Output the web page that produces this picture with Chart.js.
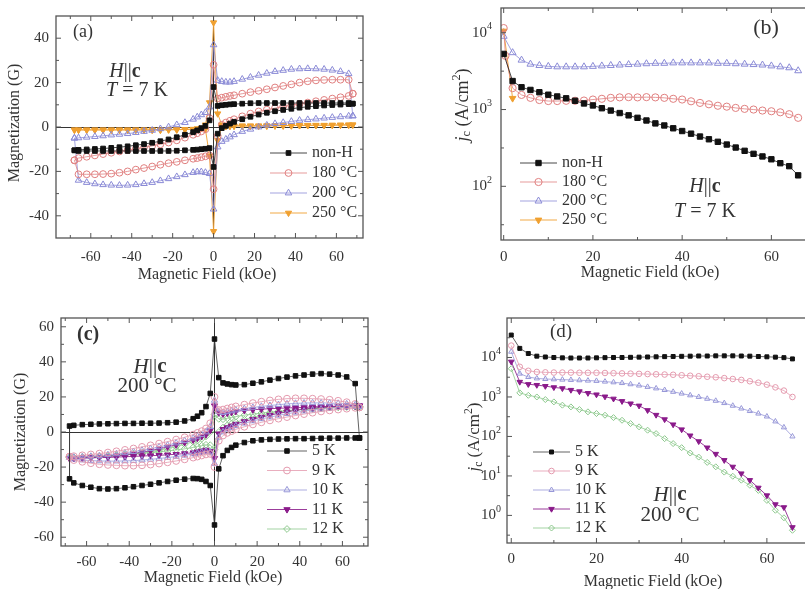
<!DOCTYPE html>
<html>
<head>
<meta charset="utf-8">
<script src="https://cdn.jsdelivr.net/npm/chart.js@4.4.1/dist/chart.umd.min.js"></script>
<style>
  html, body { margin: 0; padding: 0; background: #fff; width: 805px; height: 589px; overflow: hidden; }
  canvas { position: absolute; }
</style>
</head>
<body>
<canvas id="ca" width="400" height="295" style="left:0;top:0"></canvas>
<canvas id="cb" width="440" height="295" style="left:400px;top:0"></canvas>
<canvas id="cc" width="400" height="294" style="left:0;top:295px"></canvas>
<canvas id="cd" width="440" height="294" style="left:400px;top:295px"></canvas>
<script>
// ---- loop field sweeps (kOe), panels (a) and (c)
const loopFieldDown = [68,66,62,58,54,50,46,42,38,34,30,26,22,18,14,10,8,6,4,2,0,-2,-4,-6,-8,-10,-14,-18,-22,-26,-30,-34,-38,-42,-46,-50,-54,-58,-62,-66,-68];
const loopFieldUp = [-68,-66,-62,-58,-54,-50,-46,-42,-38,-34,-30,-26,-22,-18,-14,-10,-8,-6,-4,-2,0,2,4,6,8,10,14,18,22,26,30,34,38,42,46,50,54,58,62,66,68];

// panel (a): magnetization (G), T = 7 K
const aNonHDown = [10.5,10.8,10.8,10.8,10.8,10.8,10.8,10.8,10.8,10.8,10.8,10.8,10.8,10.7,10.5,10.3,10.2,10.0,9.8,9.5,18,3,0.5,-0.5,-1.5,-2.3,-3.5,-4.6,-5.6,-6.4,-7.1,-7.7,-8.2,-8.7,-9.1,-9.4,-9.7,-9.9,-10.1,-10.3,-10.5];
const aNonHUp = [-10.5,-10.8,-10.8,-10.8,-10.8,-10.8,-10.8,-10.8,-10.8,-10.8,-10.8,-10.8,-10.8,-10.7,-10.5,-10.3,-10.2,-10.0,-9.8,-9.5,-18,-3,-0.5,0.5,1.5,2.3,3.5,4.6,5.6,6.4,7.1,7.7,8.2,8.7,9.1,9.4,9.7,9.9,10.1,10.3,10.5];
const a180Down = [15,21.3,21.3,21.3,21.2,21.0,20.6,20.0,19.2,18.5,17.8,17.0,16.3,15.7,15.0,14.3,14.0,13.6,13.2,12.8,28,4,-1,-2,-2.8,-3.5,-4.8,-6,-7,-7.8,-8.5,-9.2,-9.8,-10.4,-11,-11.6,-12.2,-12.8,-13.4,-14,-15];
const a180Up = [-15,-21.3,-21.3,-21.3,-21.2,-21.0,-20.6,-20.0,-19.2,-18.5,-17.8,-17.0,-16.3,-15.7,-15.0,-14.3,-14.0,-13.6,-13.2,-12.8,-28,-4,1,2,2.8,3.5,4.8,6,7,7.8,8.5,9.2,9.8,10.4,11,11.6,12.2,12.8,13.4,14,15];
const a200Down = [5,24,25,25.6,26,26.2,26.3,26.2,26,25.5,25,24.2,23.3,22.4,21.5,20.5,20.2,20.2,20.5,21,37,9,6.5,5.5,4.5,3.5,2,1,0,-0.8,-1.5,-2,-2.5,-3,-3.3,-3.6,-4,-4.3,-4.6,-4.9,-5];
const a200Up = [-5,-24,-25,-25.6,-26,-26.2,-26.3,-26.2,-26,-25.5,-25,-24.2,-23.3,-22.4,-21.5,-20.5,-20.2,-20.2,-20.5,-21,-37,-9,-6.5,-5.5,-4.5,-3.5,-2,-1,0,0.8,1.5,2,2.5,3,3.3,3.6,4,4.3,4.6,4.9,5];
const a250Down = [1,1,0.9,0.9,0.8,0.8,0.8,0.7,0.7,0.6,0.6,0.6,0.5,0.5,0.5,0.5,0.5,0.5,1,6,47,11,1,-0.5,-0.8,-1,-1.1,-1.2,-1.2,-1.3,-1.3,-1.3,-1.3,-1.3,-1.3,-1.3,-1.3,-1.3,-1.3,-1.3,-1.3];
const a250Up = [-1.3,-1.3,-1.3,-1.3,-1.3,-1.3,-1.3,-1.3,-1.3,-1.3,-1.3,-1.3,-1.2,-1.2,-1.1,-1,-0.8,-0.6,-1,-13,-47,-6,0,0.3,0.4,0.5,0.5,0.5,0.5,0.5,0.6,0.6,0.6,0.7,0.7,0.8,0.8,0.8,0.9,0.9,1];

// panel (b): jc (A/cm^2), T = 7 K
const bField = [0,2,4,6,8,10,12,14,16,18,20,22,24,26,28,30,32,34,36,38,40,42,44,46,48,50,52,54,56,58,60,62,64,66];
const bField180 = [0,0.4,2,4,6,8,10,12,14,16,18,20,22,24,26,28,30,32,34,36,38,40,42,44,46,48,50,52,54,56,58,60,62,64,66];
const bField250 = [0,2];
const bNonH = [5300,2350,1950,1800,1680,1560,1480,1400,1300,1200,1130,1040,970,900,840,780,720,660,620,570,525,485,445,410,380,350,320,290,265,245,225,200,183,139];
const b180 = [11500,5000,1900,1550,1420,1330,1290,1290,1300,1300,1310,1350,1380,1420,1440,1450,1440,1450,1440,1420,1380,1350,1280,1220,1170,1120,1090,1050,1020,1000,970,950,920,870,780];
const b200 = [9000,5500,4400,3900,3750,3650,3600,3600,3600,3600,3650,3700,3750,3800,3850,3900,3950,4000,4000,4050,4050,4050,4050,4050,4000,4000,3950,3900,3850,3800,3700,3600,3500,3200];
const b250 = [10500,1400];

// panel (c): magnetization (G), 200 °C sample
const c5Down = [-3.4,27.6,31.4,32.5,33,33.3,33,32.5,32,31.3,30.5,29.6,28.6,27.8,27,26.8,27,27.4,28,31,53,22,14.5,11,9,7.6,6.3,5.6,5.3,5.1,5,5,4.9,4.9,4.8,4.7,4.6,4.4,4.2,3.8,3.4];
const c5Up = [-26.7,-29,-30.5,-31.5,-32.3,-32.5,-32.3,-31.8,-31.2,-30.5,-29.8,-29,-28.2,-27.5,-26.9,-26.5,-26.6,-27,-28.2,-30.5,-53,-21,-13.5,-10.5,-8.8,-7.5,-6,-5,-4.5,-4.2,-4,-3.9,-3.8,-3.8,-3.7,-3.6,-3.5,-3.5,-3.4,-3.4,-3.4];
const c9Down = [14,16,17,17.8,18.4,18.8,19,19.2,19.2,19,18.6,18,17.3,16.5,15.6,14.6,14,13.4,12.8,12.5,20,5,2,0.5,-0.5,-1.5,-3,-4.3,-5.5,-6.6,-7.6,-8.5,-9.4,-10.2,-11,-11.7,-12.3,-12.8,-13.3,-13.8,-14];
const c9Up = [-14,-16,-17,-17.8,-18.4,-18.8,-19,-19.2,-19.2,-19,-18.6,-18,-17.3,-16.5,-15.6,-14.6,-14,-13.4,-12.8,-12.5,-20,-5,-2,-0.5,0.5,1.5,3,4.3,5.5,6.6,7.6,8.5,9.4,10.2,11,11.7,12.3,12.8,13.3,13.8,14];
const c10Down = [14.5,15.5,16,16.3,16.5,16.6,16.6,16.5,16.3,16,15.6,15.1,14.6,14,13.3,12.5,12,11.5,11,11.5,18,3,0,-1.5,-2.5,-3.5,-5,-6.3,-7.5,-8.5,-9.5,-10.4,-11.2,-11.9,-12.5,-13,-13.5,-13.9,-14.2,-14.4,-14.5];
const c10Up = [-14.5,-15.5,-16,-16.3,-16.5,-16.6,-16.6,-16.5,-16.3,-16,-15.6,-15.1,-14.6,-14,-13.3,-12.5,-12,-11.5,-11,-11.5,-18,-3,0,1.5,2.5,3.5,5,6.3,7.5,8.5,9.5,10.4,11.2,11.9,12.5,13,13.5,13.9,14.2,14.4,14.5];
const c11Down = [15,15,14.8,14.7,14.6,14.5,14.3,14.1,13.9,13.7,13.5,13.3,13,12.7,12.3,11.8,11.3,10.8,10.3,11,15,1,-1.5,-2.5,-3.5,-4.5,-6,-7.3,-8.5,-9.6,-10.6,-11.5,-12.3,-13,-13.5,-14,-14.3,-14.6,-14.8,-15,-15];
const c11Up = [-15,-15,-14.8,-14.7,-14.6,-14.5,-14.3,-14.1,-13.9,-13.7,-13.5,-13.3,-13,-12.7,-12.3,-11.8,-11.3,-10.8,-10.3,-11,-15,-1,1.5,2.5,3.5,4.5,6,7.3,8.5,9.6,10.6,11.5,12.3,13,13.5,14,14.3,14.6,14.8,15,15];
const c12Down = [14.5,14.5,14.3,14.1,13.9,13.6,13.3,13,12.6,12.2,11.8,11.3,10.8,10.2,9.6,8.8,8.3,7.8,7.3,7.5,10,0,-2.5,-3.8,-4.8,-5.6,-7,-8.3,-9.4,-10.4,-11.2,-11.9,-12.5,-13,-13.4,-13.7,-14,-14.2,-14.4,-14.5,-14.5];
const c12Up = [-14.5,-14.5,-14.3,-14.1,-13.9,-13.6,-13.3,-13,-12.6,-12.2,-11.8,-11.3,-10.8,-10.2,-9.6,-8.8,-8.3,-7.8,-7.3,-7.5,-10,0,2.5,3.8,4.8,5.6,7,8.3,9.4,10.4,11.2,11.9,12.5,13,13.4,13.7,14,14.2,14.4,14.5,14.5];

// panel (d): jc (A/cm^2), 200 °C sample
const dField = [0,2,4,6,8,10,12,14,16,18,20,22,24,26,28,30,32,34,36,38,40,42,44,46,48,50,52,54,56,58,60,62,64,66];
const d5 = [37000,17000,12600,10800,10300,10000,9800,9700,9700,9700,9800,9900,10000,10000,10100,10200,10300,10400,10500,10600,10700,10800,10900,10900,11000,11000,11000,10900,10800,10600,10400,10200,9900,9200];
const d9 = [20000,5800,4600,4300,4200,4150,4150,4150,4100,4100,4100,4050,4000,3950,3900,3850,3800,3750,3700,3650,3550,3450,3350,3250,3150,3000,2850,2700,2500,2300,2050,1750,1450,1000];
const d10 = [14000,3900,3200,2950,2850,2800,2750,2700,2650,2600,2550,2450,2350,2250,2100,1950,1800,1650,1500,1350,1220,1100,1000,900,800,700,600,510,440,380,320,240,170,100];
const d11 = [7800,2400,2100,2000,1880,1750,1650,1500,1380,1250,1150,1020,900,780,680,600,460,350,270,200,150,105,75,52,36,25,17,11.5,7.8,5,3.2,1.9,1.6,0.5];
const d12 = [5200,1270,1100,1000,860,750,620,560,480,420,380,345,300,257,212,175,144,118,88,66,52,38,30,22,17,12.5,9.8,7.8,5.8,4.3,2.4,1.35,0.87,0.42];

// ---- ticks
const loopXTicks = [-60,-40,-20,0,20,40,60];
const loopXMinor = [-70,-50,-30,-10,10,30,50,70];
const aYTicks = [-40,-20,0,20,40];
const aYMinor = [-30,-10,10,30];
const cYTicks = [-60,-40,-20,0,20,40,60];
const cYMinor = [-50,-30,-10,10,30,50];
const jcXTicks = [0,20,40,60];
const jcXMinor = [10,30,50,70];
const bYTicks = [100,1000,10000];
const bYMinor = [31.6,316,3162];
const dYTicks = [1,10,100,1000,10000];
const dYMinor = [0.316,3.16,31.6,316,3162,31623];

const SERIF = '"Liberation Serif","DejaVu Serif",serif';
const cfgs = {};

function fnt(style, size) { return (style ? style + ' ' : '') + size + 'px ' + SERIF; }

// draw a run of differently styled text pieces: [text, style, size, dy]
function drawRuns(ctx, parts, x, y, align, rot) {
  ctx.save();
  ctx.translate(x, y);
  if (rot) ctx.rotate(-Math.PI / 2);
  ctx.textBaseline = 'middle';
  ctx.textAlign = 'left';
  let w = 0;
  parts.forEach(p => { ctx.font = fnt(p[1], p[2]); w += ctx.measureText(p[0]).width; });
  let cx = align === 'left' ? 0 : align === 'right' ? -w : -w / 2;
  parts.forEach(p => {
    ctx.font = fnt(p[1], p[2]);
    ctx.fillText(p[0], cx, p[3] || 0);
    cx += ctx.measureText(p[0]).width;
  });
  ctx.restore();
}

const deco = {
  id: 'deco',
  afterDatasetsDraw(chart) {
    const c = cfgs[chart.canvas.id];
    if (!c) return;
    const ctx = chart.ctx, a = chart.chartArea, sx = chart.scales.x, sy = chart.scales.y;
    const seg = (x1, y1, x2, y2) => { ctx.beginPath(); ctx.moveTo(x1, y1); ctx.lineTo(x2, y2); ctx.stroke(); };
    ctx.save();
    ctx.strokeStyle = '#555';
    ctx.lineWidth = 1.3;
    ctx.strokeRect(a.left, a.top, a.right - a.left, a.bottom - a.top);
    ctx.lineWidth = 1;
    // inward ticks on all four sides
    const marks = (vals, len, horiz) => vals.forEach(v => {
      if (horiz) {
        const p = sx.getPixelForValue(v);
        if (p < a.left || p > a.right) return;
        seg(p, a.bottom, p, a.bottom - len); seg(p, a.top, p, a.top + len);
      } else {
        const p = sy.getPixelForValue(v);
        if (p < a.top || p > a.bottom) return;
        seg(a.left, p, a.left + len, p); seg(a.right, p, a.right - len, p);
      }
    });
    marks(c.xMajor, 5, true); marks(c.xMinor, 3, true);
    marks(c.yMajor, 5, false); marks(c.yMinor, 3, false);

    ctx.fillStyle = '#333';
    if (c.logPad) {
      c.yMajor.forEach(v => drawRuns(ctx, [['10', '', 15], [String(Math.round(Math.log10(v))), '', 10, -6]],
        a.left - c.logPad, sy.getPixelForValue(v), 'right'));
    }
    c.texts.forEach(t => drawRuns(ctx, t.parts, t.x, t.y, t.align || 'center', t.rot));

    // legend: line + marker + label
    const L = c.legend;
    chart.data.datasets.forEach((ds, i) => {
      const y = L.y + i * L.dy;
      ctx.strokeStyle = ds.borderColor; ctx.lineWidth = 1;
      seg(L.x, y, L.x + L.len, y);
      ctx.fillStyle = ds.pointBackgroundColor;
      ctx.strokeStyle = ds.pointBorderColor;
      ctx.lineWidth = ds.pointBorderWidth;
      Chart.helpers.drawPoint(ctx, { pointStyle: ds.pointStyle, rotation: ds.pointRotation || 0,
        radius: ds.pointRadius, borderWidth: ds.pointBorderWidth }, L.x + L.len / 2, y);
      ctx.fillStyle = '#333';
      drawRuns(ctx, [[ds.label, '', L.size]], L.x + L.len + 5, y, 'left');
    });
    ctx.restore();
  }
};

// marker styles
const CLEAR = 'rgba(255,255,255,0)';
function st(color, line, shape, r, filled, rot) {
  return { borderColor: line, borderWidth: 1, pointStyle: shape, pointRadius: r, pointRotation: rot || 0,
    pointBorderColor: color, pointBackgroundColor: filled ? color : CLEAR, pointBorderWidth: 1, showLine: true };
}
function loop(label, down, up, style) {
  const data = loopFieldDown.map((x, i) => ({ x, y: down[i] }))
    .concat(loopFieldUp.map((x, i) => ({ x, y: up[i] })));
  return Object.assign({ label, data }, style);
}
function curve(label, xs, ys, style) {
  return Object.assign({ label, data: xs.map((x, i) => ({ x, y: ys[i] })) }, style);
}

const tickFont = { family: SERIF, size: 15 };
const zeroLine = c => (c.tick && c.tick.value === 0 ? '#333' : CLEAR);

function makeChart(id, datasets, o) {
  cfgs[id] = o.deco;
  return new Chart(document.getElementById(id), {
    type: 'scatter',
    data: { datasets },
    options: {
      responsive: false, animation: false, devicePixelRatio: 1, events: [],
      layout: { padding: { left: 0, top: o.top, right: o.right, bottom: 0 } },
      plugins: { legend: { display: false }, tooltip: { enabled: false } },
      scales: {
        x: {
          type: 'linear', min: o.xMin, max: o.xMax,
          afterBuildTicks: s => { s.ticks = o.deco.xMajor.map(v => ({ value: v })); },
          afterFit: s => { s.height = o.bottomH; },
          ticks: { font: tickFont, color: '#333', padding: o.xPad, autoSkip: false, maxRotation: 0 },
          grid: { drawTicks: false, color: o.zero ? zeroLine : CLEAR, lineWidth: 1 },
          border: { display: false }
        },
        y: {
          type: o.log ? 'logarithmic' : 'linear', min: o.yMin, max: o.yMax,
          afterBuildTicks: s => { s.ticks = o.deco.yMajor.map(v => ({ value: v })); },
          afterFit: s => { s.width = o.leftW; },
          ticks: { display: !o.log, font: tickFont, color: '#333', padding: 7, autoSkip: false },
          grid: { drawTicks: false, color: o.zero ? zeroLine : CLEAR, lineWidth: 1 },
          border: { display: false }
        }
      }
    },
    plugins: [deco]
  });
}

const HC = s => [['H', 'italic', s], ['||', '', s], ['c', 'bold', s]];
const JC = s => [['j', 'italic', s], ['c', '', s * 0.68, 4], [' (A/cm', '', s], ['2', '', s * 0.68, -6], [')', '', s]];
const FIELD = [['Magnetic Field (kOe)', '', 16]];
const MAG = [['Magnetization (G)', '', 16]];

// (a)
makeChart('ca', [
  loop('non-H', aNonHDown, aNonHUp, st('#111', 'rgba(40,40,40,0.85)', 'rect', 3.3, true)),
  loop('180 °C', a180Down, a180Up, st('#e07f7f', 'rgba(224,130,130,0.8)', 'circle', 3.4, false)),
  loop('200 °C', a200Down, a200Up, st('#8a8ad6', 'rgba(140,140,215,0.8)', 'triangle', 3.8, false)),
  loop('250 °C', a250Down, a250Up, st('#f0a030', 'rgba(240,160,50,0.9)', 'triangle', 3.6, true, 180))
], {
  xMin: -77, xMax: 73, yMin: -50, yMax: 50, top: 8, right: 37, leftW: 56, bottomH: 57, xPad: 10, zero: true,
  deco: {
    xMajor: loopXTicks, xMinor: loopXMinor, yMajor: aYTicks, yMinor: aYMinor,
    texts: [
      { parts: [['(a)', '', 18]], x: 73, y: 32, align: 'left' },
      { parts: HC(20), x: 125, y: 72 },
      { parts: [['T', 'italic', 20], [' = 7 K', '', 20]], x: 137, y: 91 },
      { parts: MAG, x: 15, y: 123, rot: true },
      { parts: FIELD, x: 207, y: 275 }
    ],
    legend: { x: 270, y: 153, dy: 20, len: 37, size: 16 }
  }
});

// (b)
makeChart('cb', [
  curve('non-H', bField, bNonH, st('#111', 'rgba(40,40,40,0.85)', 'rect', 3.8, true)),
  curve('180 °C', bField180, b180, st('#e07f7f', 'rgba(224,130,130,0.8)', 'circle', 3.6, false)),
  curve('200 °C', bField, b200, st('#8a8ad6', 'rgba(140,140,215,0.8)', 'triangle', 4, false)),
  curve('250 °C', bField250, b250, st('#f0a030', 'rgba(240,160,50,0.9)', 'triangle', 3.8, true, 180))
], {
  xMin: -0.6, xMax: 70, yMin: 20, yMax: 21000, log: true, top: 8, right: 24, leftW: 101, bottomH: 55, xPad: 8,
  deco: {
    xMajor: jcXTicks, xMinor: jcXMinor, yMajor: bYTicks, yMinor: bYMinor, logPad: 9,
    texts: [
      { parts: [['(b)', '', 22]], x: 366, y: 28 },
      { parts: HC(20), x: 305, y: 187 },
      { parts: [['T', 'italic', 20], [' = 7 K', '', 20]], x: 305, y: 212 },
      { parts: JC(18), x: 63, y: 105, rot: true },
      { parts: FIELD, x: 250, y: 273 }
    ],
    legend: { x: 120, y: 163, dy: 19, len: 37, size: 16 }
  }
});

// (c)
makeChart('cc', [
  loop('5 K', c5Down, c5Up, st('#111', 'rgba(60,60,60,0.8)', 'rect', 3.2, true)),
  loop('9 K', c9Down, c9Up, st('#e49aae', 'rgba(228,154,174,0.8)', 'circle', 3.4, false)),
  loop('10 K', c10Down, c10Up, st('#9898d8', 'rgba(152,152,216,0.8)', 'triangle', 3.6, false)),
  loop('11 K', c11Down, c11Up, st('#8a1a8a', 'rgba(138,26,138,0.85)', 'triangle', 3.6, true, 180)),
  loop('12 K', c12Down, c12Up, st('#8cc88c', 'rgba(140,200,140,0.8)', 'rectRot', 3.4, false))
], {
  xMin: -72, xMax: 72, yMin: -65, yMax: 65, top: 23, right: 32, leftW: 61, bottomH: 43, xPad: 7, zero: true,
  deco: {
    xMajor: loopXTicks, xMinor: loopXMinor, yMajor: cYTicks, yMinor: cYMinor,
    texts: [
      { parts: [['(c)', 'bold', 20]], x: 77, y: 40, align: 'left' },
      { parts: HC(21), x: 150, y: 72 },
      { parts: [['200 °C', '', 21]], x: 147, y: 91 },
      { parts: MAG, x: 21, y: 137, rot: true },
      { parts: FIELD, x: 213, y: 283 }
    ],
    legend: { x: 267, y: 156, dy: 19.5, len: 40, size: 16 }
  }
});

// (d)
makeChart('cd', [
  curve('5 K', dField, d5, st('#111', 'rgba(60,60,60,0.8)', 'rect', 2.8, true)),
  curve('9 K', dField, d9, st('#e49aae', 'rgba(228,154,174,0.8)', 'circle', 2.8, false)),
  curve('10 K', dField, d10, st('#9898d8', 'rgba(152,152,216,0.8)', 'triangle', 3, false)),
  curve('11 K', dField, d11, st('#8a1a8a', 'rgba(138,26,138,0.85)', 'triangle', 3.2, true, 180)),
  curve('12 K', dField, d12, st('#8cc88c', 'rgba(140,200,140,0.8)', 'rectRot', 3, false))
], {
  xMin: -1, xMax: 72, yMin: 0.2, yMax: 100000, log: true, top: 23, right: 22, leftW: 107, bottomH: 46, xPad: 7,
  deco: {
    xMajor: jcXTicks, xMinor: jcXMinor, yMajor: dYTicks, yMinor: dYMinor, logPad: 6,
    texts: [
      { parts: [['(d)', '', 19]], x: 150, y: 37, align: 'left' },
      { parts: HC(21), x: 270, y: 200 },
      { parts: [['200 °C', '', 21]], x: 270, y: 220 },
      { parts: JC(17), x: 75, y: 142, rot: true },
      { parts: FIELD, x: 253, y: 287 }
    ],
    legend: { x: 133, y: 157, dy: 19, len: 37, size: 16 }
  }
});
</script>
</body>
</html>
